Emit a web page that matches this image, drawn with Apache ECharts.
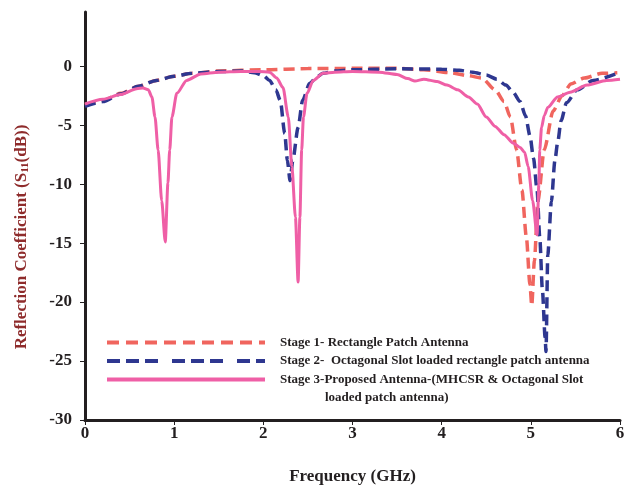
<!DOCTYPE html>
<html>
<head>
<meta charset="utf-8">
<script src="https://cdn.jsdelivr.net/npm/echarts@6/dist/echarts.min.js"></script>
<style>
html,body{margin:0;padding:0;background:#fff;}
#chart{width:629px;height:491px;}
</style>
</head>
<body>
<div id="chart"></div>
<script>
// ---- Data ----
const seriesNames = [
  'Stage 1- Rectangle Patch Antenna',
  'Stage 2-  Octagonal Slot loaded rectangle patch antenna',
  'Stage 3-Proposed Antenna-(MHCSR & Octagonal Slot'
];
const legendContinuation = 'loaded patch antenna)';

const stage1Freq = [0, 0.2, 0.4, 0.6, 0.8, 1.0, 1.2, 1.5, 2.0, 2.5, 3.0, 3.5, 3.8, 4.1, 4.3, 4.45, 4.6, 4.7, 4.77, 4.84, 4.9, 4.95, 4.99, 5.01, 5.04, 5.08, 5.15, 5.25, 5.35, 5.45, 5.6, 5.8, 5.97];
const stage1S11  = [-3.3, -2.9, -2.3, -1.7, -1.2, -0.85, -0.6, -0.4, -0.3, -0.2, -0.18, -0.18, -0.3, -0.55, -0.8, -1.0, -2.0, -3.0, -4.3, -7.1, -10.5, -14.5, -18.5, -20.3, -16.5, -11.4, -7.1, -3.8, -2.5, -1.5, -1.0, -0.6, -0.55];

const stage2Freq = [0, 0.2, 0.4, 0.6, 0.8, 1.0, 1.2, 1.5, 1.75, 1.9, 2.0, 2.07, 2.14, 2.19, 2.24, 2.27, 2.30, 2.33, 2.39, 2.44, 2.52, 2.6, 2.67, 2.8, 3.0, 3.5, 4.0, 4.2, 4.35, 4.5, 4.62, 4.72, 4.8, 4.88, 4.94, 4.99, 5.03, 5.07, 5.1, 5.13, 5.16, 5.17, 5.19, 5.23, 5.27, 5.3, 5.34, 5.4, 5.52, 5.7, 5.97];
const stage2S11  = [-3.4, -3.0, -2.35, -1.7, -1.2, -0.85, -0.6, -0.45, -0.4, -0.55, -0.8, -1.2, -2.0, -2.9, -5.7, -8.0, -9.7, -8.0, -5.2, -2.9, -1.45, -0.9, -0.6, -0.4, -0.3, -0.22, -0.25, -0.35, -0.5, -0.75, -1.1, -1.6, -2.2, -3.0, -4.2, -5.9, -7.8, -10.5, -14.5, -19.0, -23.0, -24.2, -16.0, -11.5, -8.0, -6.5, -4.6, -3.1, -2.0, -1.2, -0.6];

const stage3Freq = [0, 0.2, 0.4, 0.58, 0.65, 0.71, 0.75, 0.785, 0.82, 0.86, 0.9, 0.93, 0.95, 0.975, 1.03, 1.14, 1.3, 1.5, 1.75, 1.95, 2.07, 2.15, 2.22, 2.28, 2.32, 2.36, 2.39, 2.41, 2.43, 2.45, 2.49, 2.56, 2.67, 2.8, 3.0, 3.3, 3.5, 3.62, 3.7, 3.8, 3.95, 4.06, 4.18, 4.3, 4.4, 4.5, 4.6, 4.7, 4.8, 4.88, 4.93, 4.97, 5.02, 5.07, 5.09, 5.1, 5.12, 5.15, 5.19, 5.3, 5.44, 5.63, 5.85, 6.0];
const stage3S11  = [-3.2, -2.8, -2.4, -1.9, -1.85, -2.0, -2.6, -4.3, -7.1, -11.4, -14.9, -9.9, -7.1, -4.3, -2.3, -1.2, -0.65, -0.5, -0.45, -0.45, -0.5, -1.0, -1.8, -4.3, -8.5, -12.8, -18.3, -12.8, -7.1, -4.3, -2.3, -1.2, -0.6, -0.5, -0.45, -0.5, -0.7, -1.05, -1.25, -1.1, -1.3, -1.6, -2.0, -2.6, -3.2, -4.3, -5.1, -5.8, -6.5, -6.9, -7.3, -8.5, -11.4, -14.3, -10.0, -7.1, -5.2, -4.2, -3.5, -2.6, -2.2, -1.6, -1.2, -1.1];

const xTicks = [0, 1, 2, 3, 4, 5, 6];
const yTicks = [-30, -25, -20, -15, -10, -5, 0];

const colors = ['#F0655E', '#2E3790', '#EF5FA6'];

function pairs(xs, ys) { return xs.map((x, i) => [x, ys[i]]); }

const chart = echarts.init(document.getElementById('chart'), null, {renderer: 'canvas'});
const font = '"Liberation Serif", "Times New Roman", serif';
const axisColor = '#231F20';
const hidden = {color: 'rgba(0,0,0,0)', borderWidth: 0, opacity: 0};

const option = {
  animation: false,
  backgroundColor: '#fff',
  grid: {left: 85, right: 9, top: 12, bottom: 71, containLabel: false},
  xAxis: {
    type: 'value', min: 0, max: 6, interval: 1,
    name: 'Frequency (GHz)', nameLocation: 'middle', nameGap: 48,
    nameTextStyle: {fontFamily: font, fontWeight: 'bold', fontSize: 17, color: axisColor},
    axisLine: {onZero: false, lineStyle: {color: axisColor, width: 3}},
    axisTick: {show: true, length: 5, lineStyle: {color: axisColor, width: 1}, customValues: xTicks},
    axisLabel: {fontFamily: font, fontWeight: 'bold', fontSize: 17, color: axisColor, margin: 5, customValues: xTicks},
    splitLine: {show: false}
  },
  yAxis: {
    type: 'value', min: -30, max: 4.6, interval: 5,
    name: '{n|Reflection Coefficient (S}{s|11}{n|(dB))}',
    nameLocation: 'middle', nameGap: 54, nameRotate: 90,
    nameTextStyle: {
      padding: [0, 42, 0, 0],
      rich: {
        n: {fontFamily: font, fontWeight: 'bold', fontSize: 17, color: '#8E2B2B'},
        s: {fontFamily: font, fontWeight: 'bold', fontSize: 11, color: '#8E2B2B', padding: [8, 0, 0, 0]}
      }
    },
    axisLine: {show: true, onZero: false, lineStyle: {color: axisColor, width: 3}},
    axisTick: {show: true, length: 5, lineStyle: {color: axisColor, width: 1}, customValues: yTicks},
    axisLabel: {fontFamily: font, fontWeight: 'bold', fontSize: 17, color: axisColor, margin: 13, customValues: yTicks},
    splitLine: {show: false}
  },
  legend: {
    orient: 'vertical', left: 105, top: 336, padding: 0,
    itemWidth: 158, itemHeight: 14, itemGap: 5.5,
    itemStyle: hidden,
    textStyle: {fontFamily: font, fontWeight: 'bold', fontSize: 13, color: '#231F20', padding: [0, 0, 0, 10]},
    data: [
      {name: seriesNames[0], itemStyle: hidden, lineStyle: {type: [12, 7], width: 4}},
      {name: seriesNames[1], itemStyle: hidden, lineStyle: {type: [13, 6, 13, 6, 13, 14], width: 4}},
      {name: seriesNames[2], itemStyle: hidden, lineStyle: {type: 'solid', width: 4}}
    ]
  },
  graphic: [{
    type: 'text', left: 325, top: 391,
    style: {text: legendContinuation, fontFamily: font, fontWeight: 'bold', fontSize: 13, fill: '#231F20'}
  }],
  series: [
    {name: seriesNames[0], type: 'line', data: pairs(stage1Freq, stage1S11), showSymbol: false, symbol: 'none',
     smooth: 0.25, smoothMonotone: 'x', z: 2,
     lineStyle: {color: colors[0], width: 3.5, type: [11, 6]}, itemStyle: {color: colors[0]}},
    {name: seriesNames[1], type: 'line', data: pairs(stage2Freq, stage2S11), showSymbol: false, symbol: 'none',
     smooth: 0.25, smoothMonotone: 'x', z: 3,
     lineStyle: {color: colors[1], width: 3.5, type: [11, 6]}, itemStyle: {color: colors[1]}},
    {name: seriesNames[2], type: 'line', data: pairs(stage3Freq, stage3S11), showSymbol: false, symbol: 'none',
     smooth: 0.25, smoothMonotone: 'x', z: 4,
     lineStyle: {color: colors[2], width: 3}, itemStyle: {color: colors[2]}}
  ]
};
chart.setOption(option);
</script>
</body>
</html>
